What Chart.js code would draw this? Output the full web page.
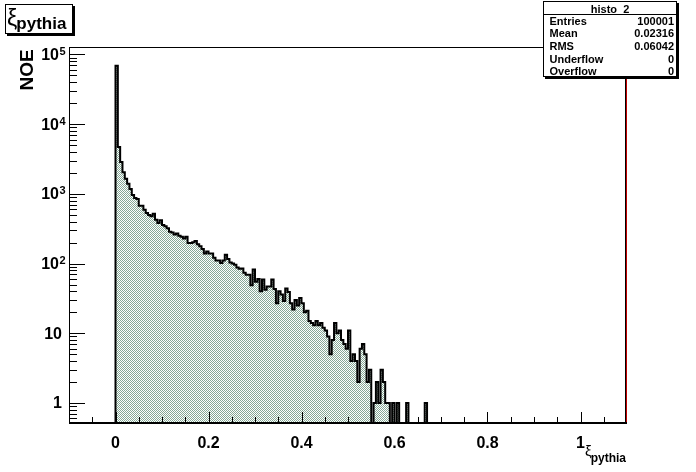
<!DOCTYPE html>
<html>
<head>
<meta charset="utf-8">
<script src="https://cdn.jsdelivr.net/npm/chart.js@4.4.1/dist/chart.umd.min.js"></script>
<style>
  html, body { margin: 0; padding: 0; background: #fff; }
  canvas { display: block; }
</style>
</head>
<body>
<canvas id="histo" width="696" height="472"></canvas>
<script>
// histo_2 : xi_pythia, bins of 0.005 starting at 0 (bins after 0.67 are empty)
const binLow = 0;
const binWidth = 0.005;
const counts = [
  69000, 4710, 2870, 2040, 1650, 1400, 1175, 965, 873, 845,
  677, 677, 593, 532, 498, 476, 520, 427, 382, 417,
  358, 342, 320, 287, 280, 262, 269, 251, 243, 228,
  243, 198, 198, 202, 211, 189, 177, 162, 139, 149,
  139, 139, 121, 111, 111, 102, 111, 134, 116, 104,
  100, 96, 88, 84, 85, 74, 69, 69, 49, 82,
  55, 60, 40, 59, 42, 47, 47, 59, 43, 27,
  40, 36, 29, 44, 39, 27, 22, 30, 25, 32,
  27, 20, 21, 15, 14, 13, 15, 13, 14, 12,
  11, 9, 5, 8, 14, 10, 11, 8, 7, 6,
  11, 4, 5, 4, 2, 6, 7, 5, 2, 3,
  0, 1, 2, 1, 3, 2, 1, 1, 0, 1,
  0, 1, 0, 0, 0, 1, 0, 0, 0, 0,
  0, 0, 0, 1
];

const xRange = [-0.1, 1.1];
const yRange = [0.516, 128000];
const xTicks = [0, 0.2, 0.4, 0.6, 0.8, 1];
const xTickLabels = ["0", "0.2", "0.4", "0.6", "0.8", "1"];
const yTicks = [1, 10, 100, 1000, 10000, 100000];
const yTickBase = ["1", "10", "10", "10", "10", "10"];
const yTickExp = ["", "", "2", "3", "4", "5"];

const statNames = ["Entries", "Mean", "RMS", "Underflow", "Overflow"];
const statValues = ["100001", "0.02316", "0.06042", "0", "0"];

const FONT = '"Liberation Sans", Arial, Helvetica, sans-serif';

// histogram contour: two points per bin, empty bins sit on the axis floor
const outline = [{ x: binLow, y: yRange[0] }];
counts.forEach((c, i) => {
  const lo = binLow + i * binWidth;
  const v = c > 0 ? c : yRange[0];
  outline.push({ x: lo, y: v }, { x: lo + binWidth, y: v });
});
outline.push({ x: binLow + counts.length * binWidth, y: yRange[0] });

// ROOT style checker hatch
const canvas = document.getElementById("histo");
const tile = document.createElement("canvas");
tile.width = 2; tile.height = 2;
const tctx = tile.getContext("2d");
tctx.fillStyle = "#fff";
tctx.fillRect(0, 0, 2, 2);
tctx.fillStyle = "#86a896";
tctx.fillRect(0, 0, 1, 1);
tctx.fillRect(1, 1, 1, 1);
const hatch = canvas.getContext("2d").createPattern(tile, "repeat");

function shadowBox(ctx, x, y, w, h) {
  ctx.fillStyle = "#000";
  ctx.fillRect(x + 2, y + 2, w, h);
  ctx.fillStyle = "#fff";
  ctx.fillRect(x, y, w, h);
  ctx.strokeStyle = "#000";
  ctx.lineWidth = 1;
  ctx.strokeRect(x + 0.5, y + 0.5, w - 1, h - 1);
}

const rootFrame = {
  id: "rootFrame",
  beforeDraw(chart) {
    const ctx = chart.ctx;
    ctx.save();
    ctx.fillStyle = "#fff";
    ctx.fillRect(0, 0, chart.width, chart.height);
    ctx.restore();
  },
  afterDraw(chart) {
    const { ctx, chartArea: a, scales: { x, y } } = chart;
    ctx.save();
    ctx.strokeStyle = "#000";
    ctx.lineWidth = 1;

    // ticks, drawn inside the frame
    ctx.beginPath();
    const minorStep = (xTicks[1] - xTicks[0]) / 4;
    for (let k = Math.ceil(xRange[0] / minorStep); k * minorStep <= xRange[1] + 1e-9; k++) {
      const px = Math.round(x.getPixelForValue(k * minorStep)) + 0.5;
      if (px <= a.left + 1 || px >= a.right - 1) continue;
      ctx.moveTo(px, a.bottom);
      ctx.lineTo(px, a.bottom - (k % 4 === 0 ? 11 : 6));
    }
    for (let e = Math.floor(Math.log10(yRange[0])); e <= Math.ceil(Math.log10(yRange[1])); e++) {
      for (let m = 1; m <= 9; m++) {
        const v = m * Math.pow(10, e);
        if (v < yRange[0] || v > yRange[1]) continue;
        const py = Math.round(y.getPixelForValue(v)) + 0.5;
        ctx.moveTo(a.left, py);
        ctx.lineTo(a.left + (m === 1 ? 16 : 8), py);
      }
    }
    ctx.stroke();

    // frame
    ctx.beginPath();
    ctx.moveTo(a.left, a.top + 0.5); ctx.lineTo(a.right, a.top + 0.5);
    ctx.moveTo(a.left + 0.5, a.top); ctx.lineTo(a.left + 0.5, a.bottom);
    ctx.moveTo(a.right - 1.5, a.top); ctx.lineTo(a.right - 1.5, a.bottom);
    ctx.stroke();
    ctx.strokeStyle = "#c00000";
    ctx.beginPath();
    ctx.moveTo(a.right - 0.5, a.top); ctx.lineTo(a.right - 0.5, a.bottom);
    ctx.stroke();
    ctx.fillStyle = "#000";
    ctx.fillRect(a.left, a.bottom - 1, a.right - a.left, 2);

    // y labels 10^n
    ctx.textBaseline = "alphabetic";
    yTicks.forEach((v, i) => {
      const py = y.getPixelForValue(v);
      const exp = yTickExp[i];
      ctx.font = "bold 16px " + FONT;
      ctx.textAlign = "right";
      ctx.fillText(yTickBase[i], a.left - (exp ? 10 : 7), py + 5.5);
      if (exp) {
        ctx.font = "bold 11px " + FONT;
        ctx.textAlign = "left";
        ctx.fillText(exp, a.left - 9.5, py + 0.5);
      }
    });

    // y title
    ctx.save();
    ctx.translate(a.left - 41, a.top + 23);
    ctx.rotate(-Math.PI / 2);
    ctx.font = "bold 19px " + FONT;
    ctx.textAlign = "center";
    ctx.textBaseline = "middle";
    ctx.fillText("NOE", 0, 0);
    ctx.restore();

    // x title
    ctx.font = "bold 12px " + FONT;
    ctx.textAlign = "right";
    ctx.fillText("pythia", a.right - 1, a.bottom + 39);
    const wSub = ctx.measureText("pythia").width;
    ctx.font = "15px " + FONT;
    ctx.fillText("\u03BE", a.right - wSub, a.bottom + 33);

    // title box
    shadowBox(ctx, 5, 4, 68, 30);
    ctx.fillStyle = "#000";
    ctx.textAlign = "left";
    ctx.font = "23px " + FONT;
    ctx.fillText("\u03BE", 7, 26);
    const wXi = ctx.measureText("\u03BE").width;
    ctx.font = "bold 17px " + FONT;
    ctx.fillText("pythia", 7 + wXi - 1, 29);

    // stats box
    const bx = 543, by = 1, bw = 134, bh = 76;
    shadowBox(ctx, bx, by, bw, bh);
    ctx.beginPath();
    ctx.moveTo(bx, by + 13.5); ctx.lineTo(bx + bw, by + 13.5);
    ctx.stroke();
    ctx.fillStyle = "#000";
    ctx.font = "bold 11px " + FONT;
    ctx.textAlign = "center";
    ctx.fillText("histo_2", bx + bw / 2, by + 11.5);
    statNames.forEach((n, i) => {
      const yy = by + 23.5 + i * 12.7;
      ctx.textAlign = "left";
      ctx.fillText(n, bx + 6.5, yy);
      ctx.textAlign = "right";
      ctx.fillText(statValues[i], bx + bw - 3, yy);
    });
    ctx.restore();
  }
};

const chart = new Chart(canvas, {
  type: "line",
  data: {
    datasets: [{
      data: outline,
      borderColor: "#000",
      borderWidth: 2,
      backgroundColor: hatch,
      fill: "start",
      pointRadius: 0,
      tension: 0,
      borderJoinStyle: "miter"
    }]
  },
  options: {
    responsive: false,
    animation: false,
    devicePixelRatio: 1,
    layout: { padding: { left: 0, right: 69, top: 47, bottom: 0 } },
    plugins: { legend: { display: false }, tooltip: { enabled: false } },
    scales: {
      x: {
        type: "linear",
        min: xRange[0],
        max: xRange[1],
        grid: { display: false },
        border: { display: false },
        afterBuildTicks: s => { s.ticks = xTicks.map(v => ({ value: v })); },
        afterFit: s => { s.height = 49; },
        ticks: {
          autoSkip: false,
          maxRotation: 0,
          padding: 3,
          color: "#000",
          font: { family: FONT, size: 16, weight: "bold" },
          callback: (v, i) => xTickLabels[i]
        }
      },
      y: {
        type: "logarithmic",
        min: yRange[0],
        max: yRange[1],
        grid: { display: false },
        border: { display: false },
        afterBuildTicks: s => { s.ticks = yTicks.map(v => ({ value: v })); },
        afterFit: s => { s.width = 69; },
        ticks: { display: false }
      }
    }
  },
  plugins: [rootFrame]
});
</script>
</body>
</html>
